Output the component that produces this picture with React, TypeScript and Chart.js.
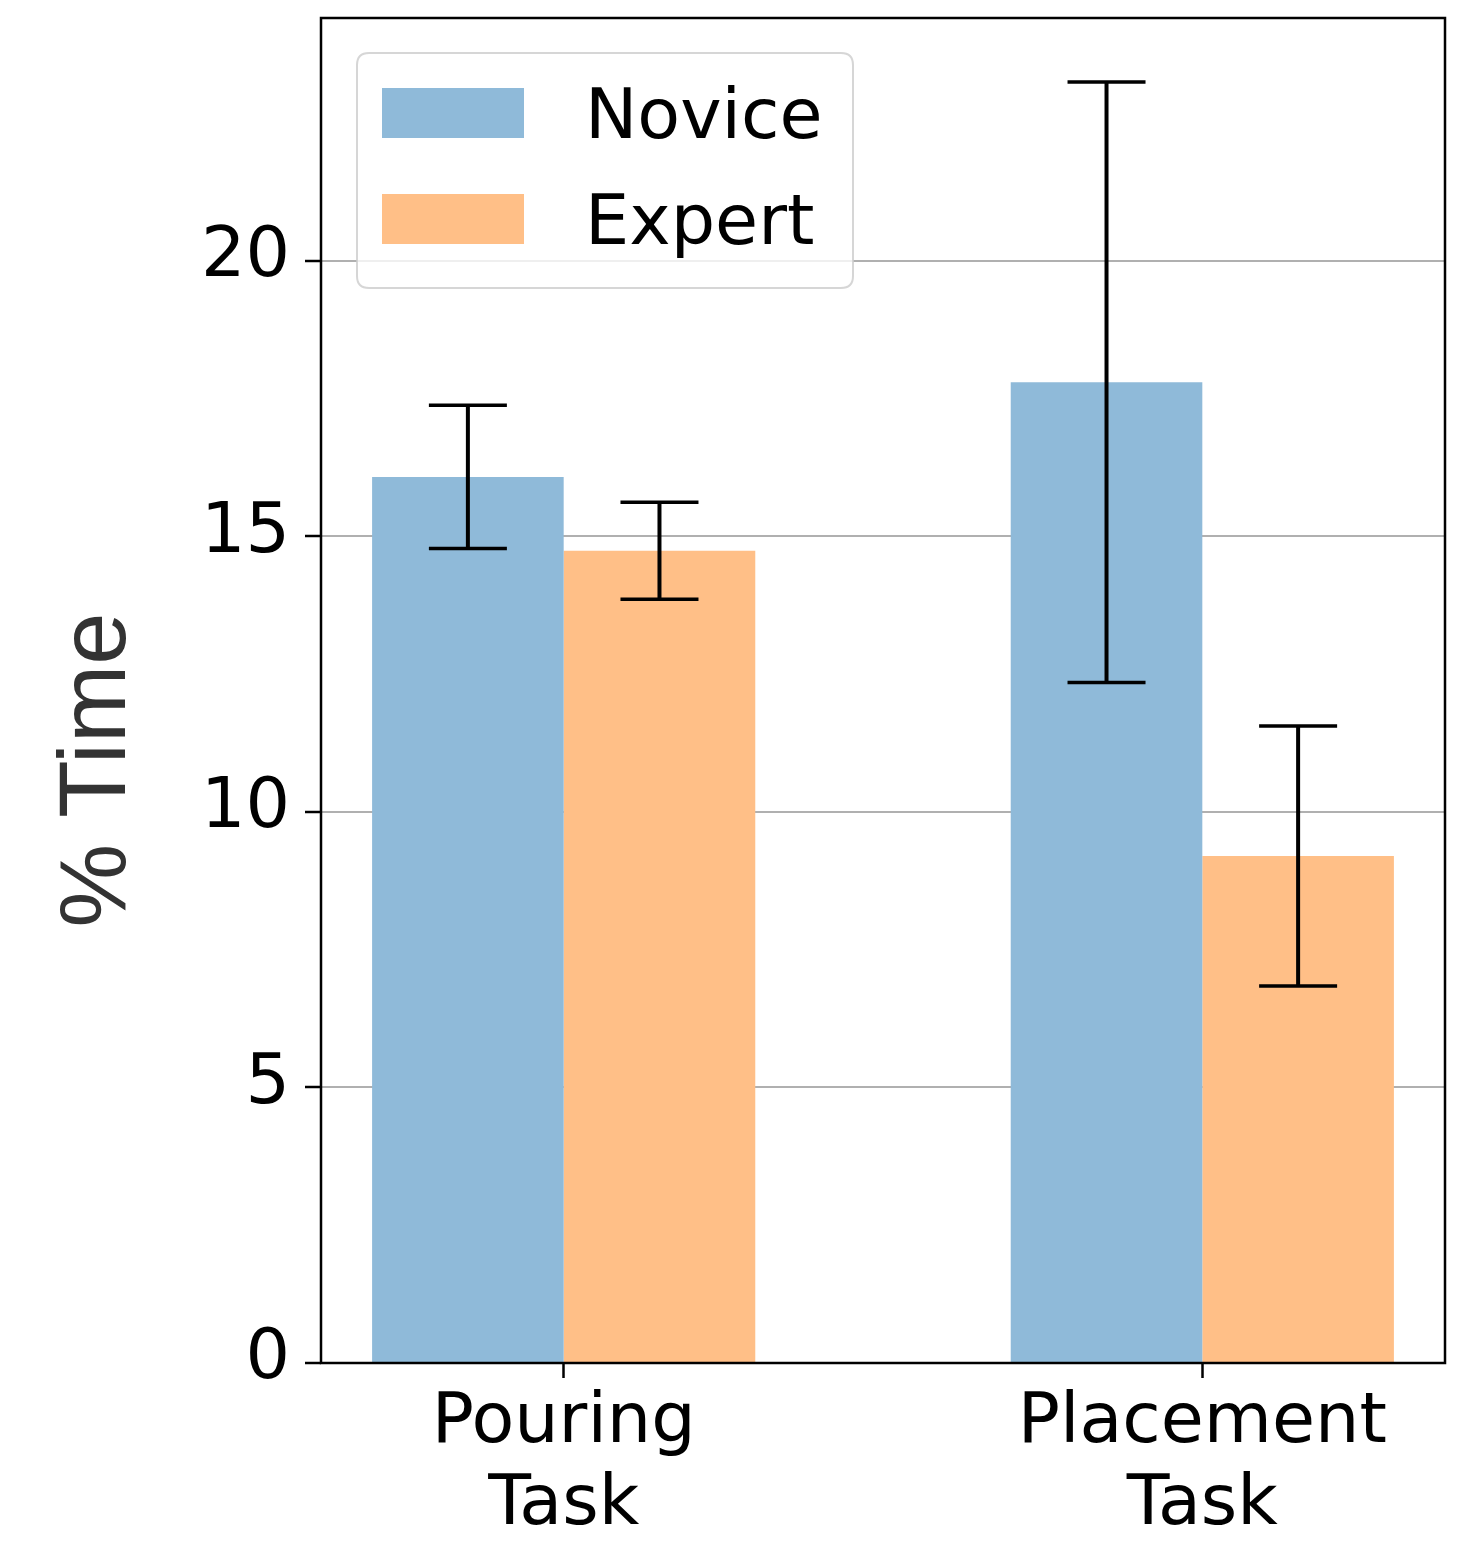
import React, { useEffect, useRef } from 'react';
import { Chart, registerables } from 'chart.js';

Chart.register(...registerables);

// ---- data ----
const categories: string[][] = [['Pouring', 'Task'], ['Placement', 'Task']];
const categoryPositions: number[] = [0, 1];
const seriesNames: string[] = ['Novice', 'Expert'];
const noviceMeans: number[] = [16.08, 17.8];
const noviceErrors: number[] = [1.3, 5.45];
const expertMeans: number[] = [14.74, 9.2];
const expertErrors: number[] = [0.88, 2.36];
const yTicks: number[] = [0, 5, 10, 15, 20];
const yAxisLabel = '% Time';

const seriesColors = ['#8fbad9', '#ffbf87'];
const errorsBySeries = [noviceErrors, expertErrors];
const meansBySeries = [noviceMeans, expertMeans];

const W = 1460;
const H = 1542;

const overlayPlugin = {
  id: 'overlay',
  afterDraw(chart: any) {
    const ctx = chart.ctx as CanvasRenderingContext2D;
    const area = chart.chartArea;
    const yScale = chart.scales.y;
    ctx.save();

    // error bars
    chart.data.datasets.forEach((ds: any, di: number) => {
      const meta = chart.getDatasetMeta(di);
      const errs = errorsBySeries[di];
      const means = meansBySeries[di];
      meta.data.forEach((bar: any, i: number) => {
        const x = bar.x;
        const yTop = yScale.getPixelForValue(means[i] + errs[i]);
        const yBot = yScale.getPixelForValue(means[i] - errs[i]);
        ctx.strokeStyle = '#000';
        ctx.lineWidth = 4;
        ctx.beginPath();
        ctx.moveTo(x, yTop);
        ctx.lineTo(x, yBot);
        ctx.stroke();
        ctx.lineWidth = 3.5;
        ctx.beginPath();
        ctx.moveTo(x - 39, yTop);
        ctx.lineTo(x + 39, yTop);
        ctx.moveTo(x - 39, yBot);
        ctx.lineTo(x + 39, yBot);
        ctx.stroke();
      });
    });

    // frame
    ctx.strokeStyle = '#000';
    ctx.lineWidth = 2.5;
    ctx.strokeRect(area.left, area.top, area.right - area.left, area.bottom - area.top);

    // legend
    const lx = 357, ly = 53, lw = 496, lh = 235, r = 12;
    ctx.beginPath();
    ctx.moveTo(lx + r, ly);
    ctx.lineTo(lx + lw - r, ly);
    ctx.quadraticCurveTo(lx + lw, ly, lx + lw, ly + r);
    ctx.lineTo(lx + lw, ly + lh - r);
    ctx.quadraticCurveTo(lx + lw, ly + lh, lx + lw - r, ly + lh);
    ctx.lineTo(lx + r, ly + lh);
    ctx.quadraticCurveTo(lx, ly + lh, lx, ly + lh - r);
    ctx.lineTo(lx, ly + r);
    ctx.quadraticCurveTo(lx, ly, lx + r, ly);
    ctx.closePath();
    ctx.fillStyle = 'rgba(255,255,255,0.8)';
    ctx.fill();
    ctx.strokeStyle = 'rgba(204,204,204,0.8)';
    ctx.lineWidth = 2;
    ctx.stroke();

    ctx.font = '70px "DejaVu Sans"';
    ctx.textAlign = 'left';
    ctx.textBaseline = 'alphabetic';
    chart.data.datasets.forEach((ds: any, di: number) => {
      const py = 88 + di * 106;
      ctx.fillStyle = ds.backgroundColor;
      ctx.fillRect(382, py, 142, 50);
      ctx.fillStyle = '#000';
      ctx.fillText(ds.label, 585, py + 50);
    });

    // y axis label
    ctx.save();
    ctx.translate(125, 770);
    ctx.rotate(-Math.PI / 2);
    ctx.font = '94px "Liberation Sans"';
    ctx.fillStyle = '#333333';
    ctx.textAlign = 'center';
    ctx.textBaseline = 'alphabetic';
    ctx.fillText(yAxisLabel, 0, 0);
    ctx.restore();

    ctx.restore();
  },
};

export default function App() {
  const canvasRef = useRef<HTMLCanvasElement | null>(null);

  useEffect(() => {
    document.body.style.margin = '0';
    const canvas = canvasRef.current;
    if (!canvas) return;
    const chart = new Chart(canvas, {
      type: 'bar',
      data: {
        datasets: [
          {
            label: seriesNames[0],
            data: categoryPositions.map((x, i) => ({ x, y: noviceMeans[i] })),
            backgroundColor: seriesColors[0],
            borderWidth: 0,
          },
          {
            label: seriesNames[1],
            data: categoryPositions.map((x, i) => ({ x, y: expertMeans[i] })),
            backgroundColor: seriesColors[1],
            borderWidth: 0,
          },
        ],
      },
      options: {
        responsive: false,
        devicePixelRatio: 1,
        animation: false,
        categoryPercentage: 0.6,
        barPercentage: 1.0,
        layout: { padding: { left: 0, top: 18, right: 15, bottom: 0 } },
        plugins: {
          legend: { display: false },
          tooltip: { enabled: false },
          title: { display: false },
        },
        scales: {
          x: {
            type: 'linear',
            min: -0.38,
            max: 1.38,
            offset: false,
            grid: {
              offset: false,
              drawOnChartArea: false,
              drawTicks: true,
              tickLength: 15,
              tickColor: '#000',
              tickWidth: 2.5,
            },
            border: { display: false },
            afterBuildTicks: (scale: any) => {
              scale.ticks = categoryPositions.map((v) => ({ value: v }));
            },
            afterFit: (scale: any) => {
              scale.height = H - 1363;
              scale.paddingLeft = 0;
              scale.paddingRight = 0;
            },
            ticks: {
              autoSkip: false,
              maxRotation: 0,
              minRotation: 0,
              padding: 5,
              color: '#000',
              font: { family: '"DejaVu Sans"', size: 70, lineHeight: 1.17 },
              callback: (v: any) => {
                const idx = categoryPositions.indexOf(Number(v));
                return idx >= 0 ? categories[idx] : '';
              },
            },
          },
          y: {
            type: 'linear',
            min: 0,
            max: 24.41,
            z: 1,
            grid: {
              color: '#b0b0b0',
              lineWidth: 2,
              drawTicks: true,
              tickLength: 16,
              tickColor: '#000',
              tickWidth: 2.5,
            },
            border: { display: false },
            afterBuildTicks: (scale: any) => {
              scale.ticks = yTicks.map((v) => ({ value: v }));
            },
            afterFit: (scale: any) => {
              scale.width = 321;
              scale.paddingTop = 0;
              scale.paddingBottom = 0;
            },
            ticks: {
              padding: 15,
              labelOffset: -3,
              color: '#000',
              font: { family: '"DejaVu Sans"', size: 70 },
              callback: (v: any) => String(v),
            },
          },
        },
      },
      plugins: [overlayPlugin],
    } as any);
    return () => chart.destroy();
  }, []);

  return (
    <div style={{ position: 'absolute', left: 0, top: 0, width: W, height: H, background: '#fff' }}>
      <canvas ref={canvasRef} width={W} height={H} style={{ width: W, height: H, display: 'block' }} />
    </div>
  );
}
